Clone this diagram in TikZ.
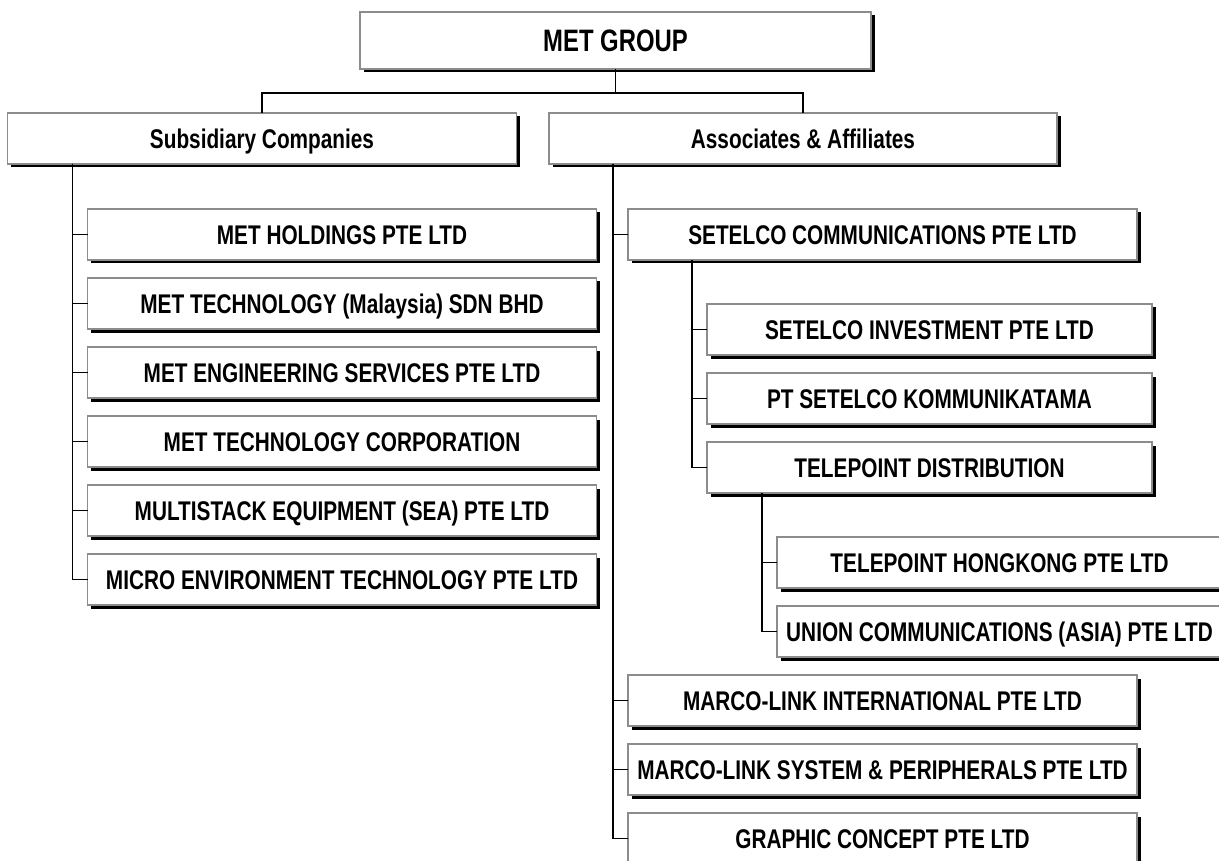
\documentclass[tikz,border=0pt]{standalone}
\usepackage{fontspec}
\newfontfamily\chartfont[FakeStretch=0.77]{Liberation Sans}
\usetikzlibrary{positioning,shadows}
\definecolor{rim}{RGB}{140,140,140}

\begin{document}
\begin{tikzpicture}[x=1pt,y=-1pt]
	\tikzstyle{unit}=[rectangle, draw=rim, line width=1.5pt, fill=white, outer sep=0pt, inner sep=0pt,
		minimum width=509pt, minimum height=51pt, text height=19.5pt, text depth=0pt,
		font=\chartfont\bfseries\fontsize{27}{29}\selectfont,
		drop shadow={shadow xshift=3.5pt, shadow yshift=-3.5pt, fill=black, opacity=1}]
	\tikzstyle{subunit}=[unit, minimum width=445pt]
	\tikzstyle{connect}=[line width=1.6pt, black]
	\clip (0,0) rectangle (1219,861);
	% top levels
	\node[unit, minimum width=511pt, minimum height=57pt, text height=23pt,
		font=\chartfont\bfseries\fontsize{31}{34}\selectfont] (group) at (615.5,40.5) {MET GROUP};
	\node[unit] (sub) at (262,138.5) {Subsidiary Companies};
	\node[unit, minimum width=508pt] (assoc) at (803,138.5) {Associates \& Affiliates};
	% subsidiaries
	\node[unit] (hold) [below=45pt of sub.south west, anchor=north west, xshift=80pt] {MET HOLDINGS PTE LTD};
	\node[unit] (mtm) [below=18pt of hold] {MET TECHNOLOGY (Malaysia) SDN BHD};
	\node[unit] (eng) [below=18pt of mtm] {MET ENGINEERING SERVICES PTE LTD};
	\node[unit] (corp) [below=18pt of eng] {MET TECHNOLOGY CORPORATION};
	\node[unit] (multi) [below=18pt of corp] {MULTISTACK EQUIPMENT (SEA) PTE LTD};
	\node[unit] (micro) [below=18pt of multi] {MICRO ENVIRONMENT TECHNOLOGY PTE LTD};
	% associates
	\node[unit] (setcomm) [below=45pt of assoc.south west, anchor=north west, xshift=79pt] {SETELCO COMMUNICATIONS PTE LTD};
	\node[subunit] (setinv) [below=44pt of setcomm.south west, anchor=north west, xshift=79pt] {SETELCO INVESTMENT PTE LTD};
	\node[subunit] (ptset) [below=18pt of setinv] {PT SETELCO KOMMUNIKATAMA};
	\node[subunit] (tdist) [below=18pt of ptset] {TELEPOINT DISTRIBUTION};
	\node[subunit] (thk) [below=44pt of tdist.south west, anchor=north west, xshift=70pt] {TELEPOINT HONGKONG PTE LTD};
	\node[subunit] (union) [below=18pt of thk] {UNION COMMUNICATIONS (ASIA) PTE LTD};
	\node[unit] (mlint) at (setcomm |- 0,700.5) {MARCO-LINK INTERNATIONAL PTE LTD};
	\node[unit] (mlsys) [below=18pt of mlint] {MARCO-LINK SYSTEM \& PERIPHERALS PTE LTD};
	\node[unit] (graphic) [below=18pt of mlsys] {GRAPHIC CONCEPT PTE LTD};

	\draw[connect] (group.south) -- ++(0,24);
	\draw[connect] (sub.north) -- ++(0,-20) -| (assoc.north);
	\foreach \n in {hold,mtm,eng,corp,multi,micro}
		\draw[connect] ([xshift=65pt]sub.south west) |- (\n.west);
	\foreach \n in {setcomm,mlint,mlsys,graphic}
		\draw[connect] ([xshift=64pt]assoc.south west) |- (\n.west);
	\foreach \n in {setinv,ptset,tdist}
		\draw[connect] ([xshift=64pt]setcomm.south west) |- (\n.west);
	\foreach \n in {thk,union}
		\draw[connect] ([xshift=55pt]tdist.south west) |- (\n.west);
\end{tikzpicture}
\end{document}
